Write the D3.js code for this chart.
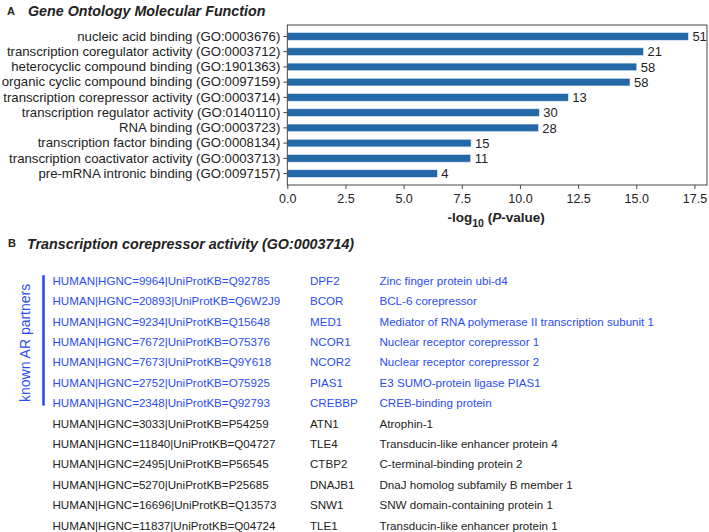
<!DOCTYPE html>
<html>
<head>
<meta charset="utf-8">
<script src="https://cdn.jsdelivr.net/npm/d3@7"></script>
<style>
  html, body { margin: 0; padding: 0; background: #fff; }
  svg { display: block; font-family: "Liberation Sans", Arial, sans-serif; }
</style>
</head>
<body>
<svg id="chart" width="709" height="532"></svg>
<script>
// ---------- Panel A data ----------
const categories = [
  "nucleic acid binding (GO:0003676)",
  "transcription coregulator activity (GO:0003712)",
  "heterocyclic compound binding (GO:1901363)",
  "organic cyclic compound binding (GO:0097159)",
  "transcription corepressor activity (GO:0003714)",
  "transcription regulator activity (GO:0140110)",
  "RNA binding (GO:0003723)",
  "transcription factor binding (GO:0008134)",
  "transcription coactivator activity (GO:0003713)",
  "pre-mRNA intronic binding (GO:0097157)"
];
const negLogP = [17.24, 15.31, 15.02, 14.73, 12.08, 10.83, 10.79, 7.90, 7.88, 6.45];
const geneCounts = [51, 21, 58, 58, 13, 30, 28, 15, 11, 4];
const xTicks = [0, 2.5, 5, 7.5, 10, 12.5, 15, 17.5];

// ---------- Panel B data ----------
const proteinIds = [
  "HUMAN|HGNC=9964|UniProtKB=Q92785",
  "HUMAN|HGNC=20893|UniProtKB=Q6W2J9",
  "HUMAN|HGNC=9234|UniProtKB=Q15648",
  "HUMAN|HGNC=7672|UniProtKB=O75376",
  "HUMAN|HGNC=7673|UniProtKB=Q9Y618",
  "HUMAN|HGNC=2752|UniProtKB=O75925",
  "HUMAN|HGNC=2348|UniProtKB=Q92793",
  "HUMAN|HGNC=3033|UniProtKB=P54259",
  "HUMAN|HGNC=11840|UniProtKB=Q04727",
  "HUMAN|HGNC=2495|UniProtKB=P56545",
  "HUMAN|HGNC=5270|UniProtKB=P25685",
  "HUMAN|HGNC=16696|UniProtKB=Q13573",
  "HUMAN|HGNC=11837|UniProtKB=Q04724"
];
const geneSymbols = ["DPF2","BCOR","MED1","NCOR1","NCOR2","PIAS1","CREBBP","ATN1","TLE4","CTBP2","DNAJB1","SNW1","TLE1"];
const proteinNames = [
  "Zinc finger protein ubi-d4",
  "BCL-6 corepressor",
  "Mediator of RNA polymerase II transcription subunit 1",
  "Nuclear receptor corepressor 1",
  "Nuclear receptor corepressor 2",
  "E3 SUMO-protein ligase PIAS1",
  "CREB-binding protein",
  "Atrophin-1",
  "Transducin-like enhancer protein 4",
  "C-terminal-binding protein 2",
  "DnaJ homolog subfamily B member 1",
  "SNW domain-containing protein 1",
  "Transducin-like enhancer protein 1"
];
const knownPartner = [true, true, true, true, true, true, true, false, false, false, false, false, false];

const svg = d3.select("#chart");
const barColor = "#2369a8";
const blue = "#2b4cf2";
const textColor = "#222";

// ---------- Panel A ----------
const plot = { left: 287.3, right: 707, top: 25, bottom: 185 };
const x = d3.scaleLinear().domain([0, 18.04]).range([plot.left, plot.right]);
const y = d3.scaleBand().domain(categories).range([plot.top, plot.bottom])
  .paddingInner(0.5).paddingOuter(0.5);

svg.append("text").attr("x", 7).attr("y", 15)
  .attr("font-size", 11).attr("font-weight", "bold").attr("fill", textColor).text("A");
svg.append("text").attr("x", 28).attr("y", 16)
  .attr("font-size", 14.3).attr("font-weight", "bold").attr("font-style", "italic")
  .attr("fill", textColor).text("Gene Ontology Molecular Function");

const bars = categories.map((c, i) => ({ c, v: negLogP[i], n: geneCounts[i] }));

svg.append("g").selectAll("rect").data(bars).join("rect")
  .attr("x", x(0))
  .attr("y", d => y(d.c))
  .attr("width", d => x(d.v) - x(0))
  .attr("height", y.bandwidth())
  .attr("fill", barColor)
  .attr("stroke", "#dfe9f3").attr("stroke-width", 0.6);

svg.append("g").selectAll("text").data(bars).join("text")
  .attr("x", d => x(d.v) + 4)
  .attr("y", d => y(d.c) + y.bandwidth() / 2)
  .attr("dy", "0.36em")
  .attr("font-size", 13).attr("fill", textColor)
  .text(d => d.n);

// frame
svg.append("rect").attr("x", plot.left).attr("y", plot.top)
  .attr("width", plot.right - plot.left).attr("height", plot.bottom - plot.top)
  .attr("fill", "none").attr("stroke", "#333").attr("stroke-width", 0.9);

const xAxis = svg.append("g").attr("transform", `translate(0,${plot.bottom})`)
  .call(d3.axisBottom(x).tickValues(xTicks).tickFormat(d3.format(".1f")).tickSize(4).tickPadding(5.5));
const yAxis = svg.append("g").attr("transform", `translate(${plot.left},0)`)
  .call(d3.axisLeft(y).tickSize(4).tickPadding(3));
[xAxis, yAxis].forEach(g => {
  g.select(".domain").remove();
  g.selectAll("line").attr("stroke", "#333").attr("stroke-width", 0.9);
  g.selectAll("text").attr("fill", textColor)
    .attr("font-family", "Liberation Sans, Arial, sans-serif");
});
xAxis.selectAll("text").attr("font-size", 12.5);
yAxis.selectAll("text").attr("font-size", 13.2);

const xl = svg.append("text").attr("x", (plot.left + plot.right) / 2 - 1).attr("y", 222)
  .attr("text-anchor", "middle").attr("font-size", 13.5).attr("font-weight", "bold").attr("fill", textColor);
xl.append("tspan").text("-log");
xl.append("tspan").attr("font-size", 10.5).attr("dy", 4.5).text("10");
xl.append("tspan").attr("dy", -4.5).text(" (");
xl.append("tspan").attr("font-style", "italic").text("P");
xl.append("tspan").text("-value)");

// ---------- Panel B ----------
svg.append("text").attr("x", 8).attr("y", 247)
  .attr("font-size", 11).attr("font-weight", "bold").attr("fill", textColor).text("B");
svg.append("text").attr("x", 27).attr("y", 248.5)
  .attr("font-size", 14.3).attr("font-weight", "bold").attr("font-style", "italic")
  .attr("fill", textColor).text("Transcription corepressor activity (GO:0003714)");

const rows = proteinIds.map((id, i) => ({ id, sym: geneSymbols[i], name: proteinNames[i], known: knownPartner[i] }));
const ry = d3.scaleLinear().domain([0, rows.length - 1]).range([280.7, 525.5]);
const cols = [{ key: "id", x: 52.5 }, { key: "sym", x: 310 }, { key: "name", x: 379.5 }];

const rowG = svg.append("g").selectAll("g").data(rows).join("g")
  .attr("transform", (d, i) => `translate(0,${ry(i)})`);
cols.forEach(c => {
  rowG.append("text").attr("x", c.x).attr("dy", "0.36em")
    .attr("font-size", 11.6).attr("fill", d => d.known ? blue : textColor)
    .text(d => d[c.key]);
});

const nKnown = knownPartner.filter(Boolean).length;
svg.append("line").attr("x1", 43.5).attr("x2", 43.5)
  .attr("y1", ry(0) - 5.5).attr("y2", ry(nKnown - 1) + 2.5)
  .attr("stroke", blue).attr("stroke-width", 2.6);
svg.append("text")
  .attr("transform", `translate(30,${(ry(0) + ry(nKnown - 1)) / 2 + 1}) rotate(-90)`)
  .attr("text-anchor", "middle").attr("font-size", 14).attr("fill", blue)
  .text("known AR partners");
</script>
</body>
</html>
